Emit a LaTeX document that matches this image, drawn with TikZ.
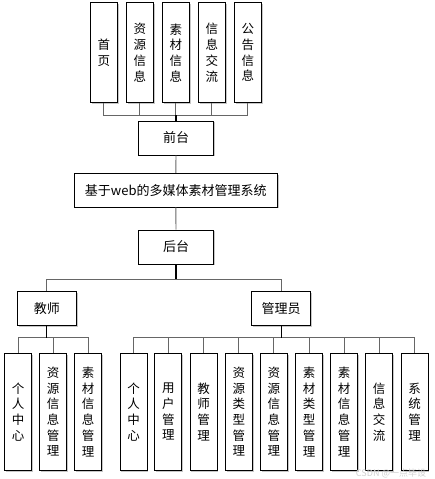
\documentclass[tikz,border=0pt]{standalone}
\usepackage{fontspec}
\newfontfamily\cjk{Noto Sans CJK SC}
\usetikzlibrary{shadows}
\begin{document}
\begin{tikzpicture}[x=1pt,y=-1pt,
  box/.style={draw=black,line width=0.8pt,fill=white,inner sep=0pt,align=center,
    font=\cjk\fontsize{12.5}{15.7}\selectfont,
    general shadow={fill=black!22,shadow xshift=1.2pt,shadow yshift=-1.2pt}},
  vbox/.style={box,minimum width=27pt,minimum height=100pt},
  leaf/.style={box,minimum width=27pt,minimum height=117pt},
  hbox/.style={box,minimum width=75.4pt,minimum height=34pt,font=\cjk\fontsize{13}{15.7}\selectfont},
  conn/.style={draw=black!60,line width=0.9pt},
  stem/.style={draw=black,line width=1.1pt}]
\useasboundingbox (0,0) rectangle (434,479);
% top level
\node[vbox] (t1) at (103.8,52.7) {首\\页};
\node[vbox] (t2) at (139.8,52.7) {资\\源\\信\\息};
\node[vbox] (t3) at (175.8,52.7) {素\\材\\信\\息};
\node[vbox] (t4) at (211.8,52.7) {信\\息\\交\\流};
\node[vbox] (t5) at (247.8,52.7) {公\\告\\信\\息};
\node[hbox] (qt) at (176,138) {前台};
\node[box,minimum width=203pt,minimum height=33.7pt,font=\cjk\fontsize{13}{15.7}\selectfont] (sys) at (175.8,190.2) {基于web的多媒体素材管理系统};
\node[hbox] (ht) at (176,247) {后台};
\node[box,minimum width=59pt,minimum height=33.6pt,font=\cjk\fontsize{13}{15.7}\selectfont] (js) at (46.8,308.5) {教师};
\node[box,minimum width=59pt,minimum height=33.6pt,font=\cjk\fontsize{13}{15.7}\selectfont] (gly) at (281.2,308.5) {管理员};
% teacher leaves
\node[leaf] (a1) at (18.2,411.8) {个\\人\\中\\心};
\node[leaf] (a2) at (53,411.8) {资\\源\\信\\息\\管\\理};
\node[leaf] (a3) at (88,411.8) {素\\材\\信\\息\\管\\理};
% admin leaves
\node[leaf] (b1) at (133.5,411.8) {个\\人\\中\\心};
\node[leaf] (b2) at (168.3,411.8) {用\\户\\管\\理};
\node[leaf] (b3) at (203.5,411.8) {教\\师\\管\\理};
\node[leaf] (b4) at (238.8,411.8) {资\\源\\类\\型\\管\\理};
\node[leaf] (b5) at (273.8,411.8) {资\\源\\信\\息\\管\\理};
\node[leaf] (b6) at (309,411.8) {素\\材\\类\\型\\管\\理};
\node[leaf] (b7) at (344.2,411.8) {素\\材\\信\\息\\管\\理};
\node[leaf] (b8) at (379.2,411.8) {信\\息\\交\\流};
\node[leaf] (b9) at (414.5,411.8) {系\\统\\管\\理};
% bus coordinates
\coordinate (topbus) at (0,115);
\coordinate (htbus) at (0,279.3);
\coordinate (lbus) at (0,337.7);
% connectors
\foreach \c in {t1,t2,t3,t4,t5}
  \draw[conn] (qt.north |- topbus) -| (\c.south);
\draw[stem] (qt.north) -- (qt.north |- topbus);
\draw[conn] (qt.south) -- (sys.north);
\draw[conn] (sys.south) -- (ht.north);
\foreach \c in {js,gly}
  \draw[conn] (ht.south |- htbus) -| (\c.north);
\draw[stem] (ht.south) -- (ht.south |- htbus);
\foreach \c in {a1,a2,a3}
  \draw[conn] (js.south |- lbus) -| (\c.north);
\draw[stem] (js.south) -- (js.south |- lbus);
\foreach \c in {b1,b2,b3,b4,b5,b6,b7,b8,b9}
  \draw[conn] (gly.south |- lbus) -| (\c.north);
\draw[stem] (gly.south) -- (gly.south |- lbus);
% watermark
\node[text=black!18,font=\cjk\fontsize{9}{10}\selectfont,inner sep=0pt] (wm) at (391,473) {CSDN @一点毕设};
\end{tikzpicture}
\end{document}
